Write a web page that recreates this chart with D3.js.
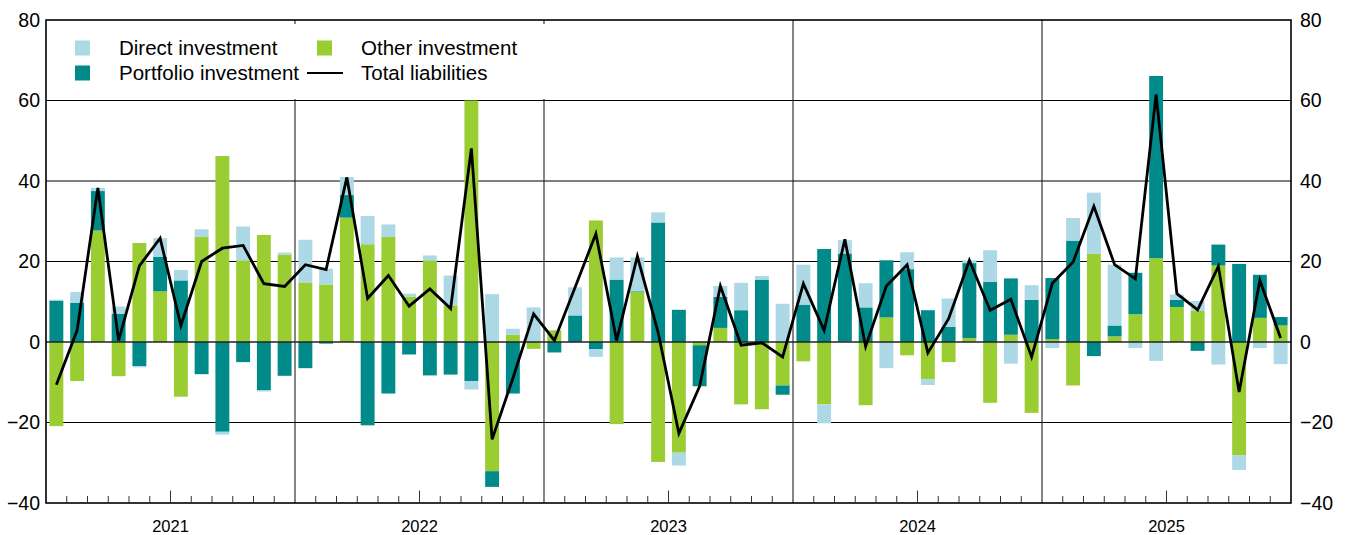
<!DOCTYPE html>
<html>
<head>
<meta charset="utf-8">
<script src="https://cdn.jsdelivr.net/npm/d3@7"></script>
<style>
  body { margin: 0; background: #fff; }
  svg { display: block; font-family: "Liberation Sans", Arial, sans-serif; }
</style>
</head>
<body>
<svg></svg>
<script>
var width = 1347,
    height = 535;

var years = [2021, 2022, 2023, 2024, 2025];
var yTicks = [-40, -20, 0, 20, 40, 60, 80];

var seriesNames = ["Direct investment", "Portfolio investment", "Other investment", "Total liabilities"];

// monthly values, Jan 2021 - Dec 2025
var direct = [
  0.2, 2.7, 0.8, 1.8, -0.3, 4.6, 2.6, 1.9, -0.7, 8.4, -0.3, 0.5,
  10.6, 3.9, 4.5, 7.0, 3.1, 0.7, 1.2, 7.4, -2.1, 11.9, 1.5, 8.6,
  0, 7.0, -1.9, 5.5, 8.4, 2.5, -3.2, 0.2, 2.7, 6.8, 0.9, 9.5,
  9.9, -4.7, 3.3, 6.0, -6.5, 4.2, -1.4, 7.0, 0.7, 7.9, -5.4, 3.6,
  -1.5, 5.6, 15.2, 15.1, -1.5, -4.7, 1.3, 2.5, -5.6, -3.7, -1.5, -5.5
];
var portfolio = [
  10.3, 9.7, 9.8, 7.0, -6.0, 8.6, 15.3, -8.0, -22.3, -5.0, -12.0, -8.4,
  -6.5, -0.4, 5.6, -20.7, -12.8, -3.1, -8.3, -8.1, -9.7, -3.9, -12.8, 0,
  -2.6, 6.6, -1.8, 15.5, 0.2, 29.7, 8.0, -10.2, 7.7, 7.9, 15.5, -2.3,
  9.3, 23.1, 21.8, 8.6, 14.2, 18.1, 7.9, 3.8, 18.6, 14.9, 14.0, 10.5,
  15.2, 25.2, -3.5, 2.7, 10.3, 45.3, 1.8, -2.2, 5.2, 19.4, 10.7, 2.1
];
var other = [
  -20.9, -9.7, 27.7, -8.5, 24.6, 12.6, -13.6, 26.1, 46.2, 20.3, 26.6, 21.7,
  14.8, 14.3, 30.9, 24.3, 26.1, 11.3, 20.3, 9.1, 60.0, -32.1, 1.8, -1.7,
  2.9, 0, 30.2, -20.4, 12.4, -29.8, -27.5, -0.8, 3.5, -15.5, -16.7, -10.8,
  -4.8, -15.5, 0.2, -15.7, 6.1, -3.3, -9.3, -5.0, 1.0, -15.1, 1.8, -17.6,
  0.7, -10.8, 21.9, 1.4, 6.9, 20.8, 8.7, 7.7, 19.0, -28.1, 6.0, 4.1
];
var total = [
  -10.6, 2.9, 38.3, 0.4, 18.9, 25.8, 4.1, 20.0, 23.3, 24.0, 14.5, 13.8,
  19.2, 18.0, 40.9, 10.8, 16.5, 8.9, 13.2, 8.3, 48.1, -24.2, -9.0, 7.0,
  0.4, 13.6, 26.9, 0.4, 21.3, 2.4, -22.7, -11.0, 13.9, -0.8, -0.2, -3.7,
  14.5, 2.9, 25.5, -1.1, 13.9, 19.2, -2.7, 5.8, 20.3, 7.9, 10.6, -3.7,
  14.6, 19.9, 33.7, 19.2, 15.7, 61.5, 12.0, 8.0, 18.8, -12.4, 15.3, 1.0
];

var colors = { direct: "#add8e6", portfolio: "#008b8a", other: "#9acd32" };

var months = [];
years.forEach(function(yr){
  for (var m = 1; m <= 12; m++) months.push(yr + "-" + (m < 10 ? "0" + m : m));
});

var rows = months.map(function(mo, i){
  return { month: mo, direct: direct[i], portfolio: portfolio[i], other: other[i] };
});

var plotLeft = 46, plotRight = 1291, plotTop = 20, plotBottom = 503;

var svg = d3.select("svg")
            .attr("width", width)
            .attr("height", height);

var xIdx = d3.scaleLinear()
             .domain([0, months.length])
             .range([plotLeft, plotRight]);

var x = d3.scaleBand()
          .domain(months)
          .range([plotLeft, plotRight])
          .paddingInner(0.33)
          .paddingOuter(0.165);

var y = d3.scaleLinear()
          .domain([-40, 80])
          .range([plotBottom, plotTop]);

// grid
svg.append("g")
   .selectAll("line")
   .data(yTicks.filter(d => d !== 0 && d !== 80 && d !== -40))
   .enter()
   .append("line")
     .attr("x1", plotLeft).attr("x2", plotRight)
     .attr("y1", d => y(d)).attr("y2", d => y(d))
     .attr("stroke", "#000")
     .attr("stroke-width", 1.1);

svg.append("g")
   .selectAll("line")
   .data(d3.range(1, years.length))
   .enter()
   .append("line")
     .attr("x1", d => xIdx(d * 12)).attr("x2", d => xIdx(d * 12))
     .attr("y1", plotTop).attr("y2", plotBottom)
     .attr("stroke", "#222")
     .attr("stroke-width", 1.1);

// legend background hides the grid behind it
svg.append("rect")
   .attr("x", plotLeft + 1)
   .attr("y", plotTop + 4)
   .attr("width", 510)
   .attr("height", y(60) - plotTop - 5.5)
   .attr("fill", "#fff");

// stacked bars
var stack = d3.stack()
              .keys(["other", "portfolio", "direct"])
              .offset(d3.stackOffsetDiverging);

var layers = svg.append("g")
                .selectAll("g")
                .data(stack(rows))
                .enter()
                .append("g")
                  .attr("fill", d => colors[d.key]);

layers.selectAll("rect")
      .data(d => d)
      .enter()
      .append("rect")
        .attr("x", d => x(d.data.month))
        .attr("width", x.bandwidth())
        .attr("y", d => y(Math.max(d[0], d[1])))
        .attr("height", d => Math.abs(y(d[0]) - y(d[1])));

// zero line
svg.append("line")
   .attr("x1", plotLeft).attr("x2", plotRight)
   .attr("y1", y(0)).attr("y2", y(0))
   .attr("stroke", "#222")
   .attr("stroke-width", 1.3);

// total line
var line = d3.line()
             .x((d, i) => x(months[i]) + x.bandwidth() / 2)
             .y(d => y(d));

svg.append("path")
   .datum(total)
   .attr("d", line)
   .attr("fill", "none")
   .attr("stroke", "#000")
   .attr("stroke-width", 2.8);

// frame
svg.append("rect")
   .attr("x", plotLeft).attr("y", plotTop)
   .attr("width", plotRight - plotLeft).attr("height", plotBottom - plotTop)
   .attr("fill", "none")
   .attr("stroke", "#000")
   .attr("stroke-width", 1.6);

// month ticks along the bottom
svg.append("g")
   .selectAll("line")
   .data(d3.range(0, months.length).filter(i => i % 12 !== 0))
   .enter()
   .append("line")
     .attr("x1", d => xIdx(d)).attr("x2", d => xIdx(d))
     .attr("y1", plotBottom)
     .attr("y2", d => d % 12 === 6 ? plotBottom - 12.5 : plotBottom - 7)
     .attr("stroke", "#333")
     .attr("stroke-width", 1);

// year labels
svg.append("g")
   .selectAll("text")
   .data(years)
   .enter()
   .append("text")
     .attr("x", (d, i) => xIdx(i * 12 + 6))
     .attr("y", 532)
     .style("font-size", "16.5px")
     .style("text-anchor", "middle")
     .text(d => d);

// value axes
var leftAxis = svg.append("g")
   .attr("transform", "translate(" + plotLeft + ",0)")
   .call(d3.axisLeft(y).tickValues(yTicks).tickSize(0).tickPadding(6));

var rightAxis = svg.append("g")
   .attr("transform", "translate(" + plotRight + ",0)")
   .call(d3.axisRight(y).tickValues(yTicks).tickSize(0).tickPadding(9));

[leftAxis, rightAxis].forEach(function(ax){
  ax.select(".domain").remove();
  ax.selectAll("text")
    .attr("fill", "#000")
    .style("font-size", "19.5px")
    .style("font-family", "'Liberation Sans', Arial, sans-serif");
});

// legend
var legendItems = [
  { name: seriesNames[0], type: "box", color: colors.direct, x: 75, y: 48 },
  { name: seriesNames[1], type: "box", color: colors.portfolio, x: 75, y: 73 },
  { name: seriesNames[2], type: "box", color: colors.other, x: 317, y: 48 },
  { name: seriesNames[3], type: "line", color: "#000", x: 317, y: 73 }
];

var legend = svg.append("g")
                .selectAll("g")
                .data(legendItems)
                .enter()
                .append("g")
                  .attr("transform", d => "translate(" + d.x + "," + d.y + ")");

legend.filter(d => d.type === "box")
      .append("rect")
        .attr("x", 0).attr("y", -7.5)
        .attr("width", 15).attr("height", 15)
        .attr("fill", d => d.color);

legend.filter(d => d.type === "line")
      .append("line")
        .attr("x1", -10).attr("x2", 26)
        .attr("y1", 0).attr("y2", 0)
        .attr("stroke", "#000")
        .attr("stroke-width", 2.2);

legend.append("text")
      .attr("x", 44)
      .attr("y", 7)
      .style("font-size", "20.5px")
      .text(d => d.name);
</script>
</body>
</html>
